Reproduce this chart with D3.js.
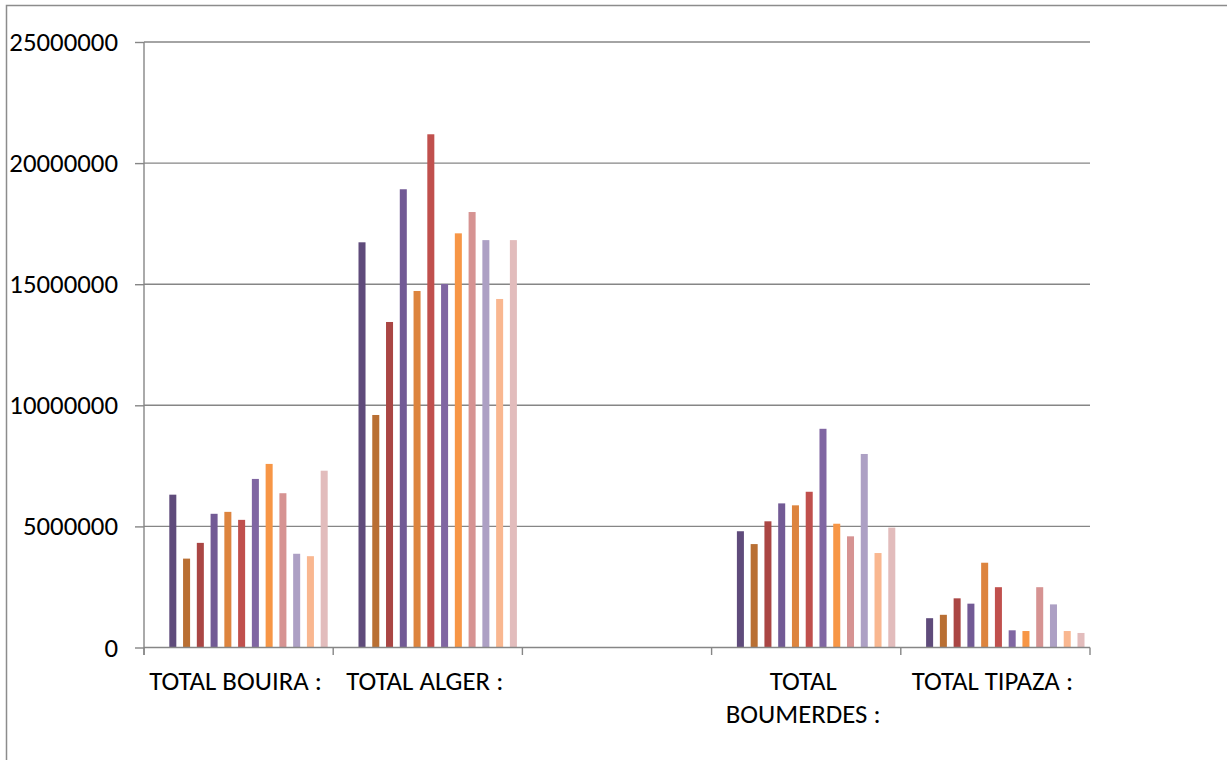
<!DOCTYPE html>
<html>
<head>
<meta charset="utf-8">
<script src="https://cdn.jsdelivr.net/npm/d3@7"></script>
<style>
  html, body { margin: 0; padding: 0; background: #fff; }
  svg { display: block; }
  text { font-family: Carlito, Lato, "Open Sans", sans-serif; fill: #000; }
</style>
</head>
<body>
<script>
// Regions on the category axis (the third slot is left blank)
const categories = ["TOTAL BOUIRA :", "TOTAL ALGER :", "", "TOTAL BOUMERDES :", "TOTAL TIPAZA :"];
const categoryLines = [["TOTAL BOUIRA :"], ["TOTAL ALGER :"], [], ["TOTAL", "BOUMERDES :"], ["TOTAL TIPAZA :"]];

// Twelve series per region
const bouira    = [6310000, 3670000, 4320000, 5520000, 5600000, 5270000, 6960000, 7580000, 6370000, 3870000, 3770000, 7300000];
const alger     = [16730000, 9600000, 13440000, 18920000, 14720000, 21190000, 15010000, 17100000, 17980000, 16820000, 14390000, 16820000];
const blank     = [null, null, null, null, null, null, null, null, null, null, null, null];
const boumerdes = [4800000, 4270000, 5210000, 5950000, 5870000, 6430000, 9030000, 5110000, 4590000, 7990000, 3900000, 4950000];
const tipaza    = [1210000, 1350000, 2030000, 1810000, 3500000, 2490000, 710000, 680000, 2490000, 1780000, 680000, 600000];

const yTicks = [0, 5000000, 10000000, 15000000, 20000000, 25000000];

const seriesColors = ["#5F4B7B", "#B96F33", "#AA4644", "#725A95", "#DD843E", "#C0504D",
                      "#8066A2", "#F79646", "#D69392", "#ADA0C4", "#F9B790", "#E2BCBC"];

const regionValues = [bouira, alger, blank, boumerdes, tipaza];
const seriesIdx = d3.range(12);

const W = 1227, H = 760;
const plot = { left: 144, right: 1090, top: 42, bottom: 647.5 };
const fontSize = 26.8;

const svg = d3.select("body").append("svg").attr("width", W).attr("height", H);

// outer chart frame
svg.append("rect")
  .attr("x", 6.5).attr("y", 5.5)
  .attr("width", 1240).attr("height", 800)
  .attr("fill", "none").attr("stroke", "#8c8c8c").attr("stroke-width", 1.5);

const y = d3.scaleLinear().domain([0, 25000000]).range([plot.bottom, plot.top]);
const x0 = d3.scaleBand().domain(d3.range(categories.length)).range([plot.left, plot.right]).padding(0);
const x1 = d3.scaleBand().domain(seriesIdx).range([25.3, 183.7]).paddingInner(0.49).paddingOuter(0);

const gridColor = "#868686";

// horizontal gridlines
svg.append("g").selectAll("line").data(yTicks.slice(1)).join("line")
  .attr("x1", plot.left).attr("x2", plot.right)
  .attr("y1", d => y(d)).attr("y2", d => y(d))
  .attr("stroke", gridColor).attr("stroke-width", 1.4);

// value axis
const yAxis = d3.axisLeft(y).tickValues(yTicks).tickFormat(d3.format("d")).tickSize(9).tickPadding(17);
const gy = svg.append("g").attr("transform", `translate(${plot.left},0)`).call(yAxis);
gy.select(".domain").remove();
gy.selectAll(".tick line").attr("stroke", gridColor).attr("stroke-width", 1.4);
gy.selectAll(".tick text").attr("font-size", fontSize).attr("fill", "#000")
  .style("font-family", "Carlito, Lato, sans-serif");
svg.append("line")
  .attr("x1", plot.left).attr("x2", plot.left)
  .attr("y1", plot.top).attr("y2", plot.bottom + 7.5)
  .attr("stroke", gridColor).attr("stroke-width", 1.4);

// bars
const groups = svg.append("g").selectAll("g").data(regionValues).join("g")
  .attr("transform", (d, i) => `translate(${x0(i)},0)`);
groups.selectAll("rect")
  .data(vals => vals.map((v, s) => ({ v, s })).filter(d => d.v != null))
  .join("rect")
  .attr("x", d => x1(d.s))
  .attr("width", x1.bandwidth())
  .attr("y", d => y(d.v))
  .attr("height", d => y(0) - y(d.v))
  .attr("fill", d => seriesColors[d.s]);

// category axis
svg.append("line")
  .attr("x1", plot.left).attr("x2", plot.right)
  .attr("y1", plot.bottom).attr("y2", plot.bottom)
  .attr("stroke", gridColor).attr("stroke-width", 1.4);
const boundaries = d3.range(categories.length + 1).map(i => plot.left + i * x0.step());
svg.append("g").selectAll("line").data(boundaries).join("line")
  .attr("x1", d => d).attr("x2", d => d)
  .attr("y1", plot.bottom).attr("y2", plot.bottom + 7.5)
  .attr("stroke", gridColor).attr("stroke-width", 1.4);

// category labels (wrapped where the name does not fit)
const labels = svg.append("g").selectAll("text").data(categoryLines).join("text")
  .attr("x", (d, i) => x0(i) + x0.bandwidth() / 2 - 3)
  .attr("y", 690)
  .attr("text-anchor", "middle")
  .attr("font-size", fontSize);
labels.selectAll("tspan").data(d => d).join("tspan")
  .attr("x", function () { return this.parentNode.getAttribute("x"); })
  .attr("dy", (d, i) => i === 0 ? 0 : 32.7)
  .text(d => d);
</script>
</body>
</html>
